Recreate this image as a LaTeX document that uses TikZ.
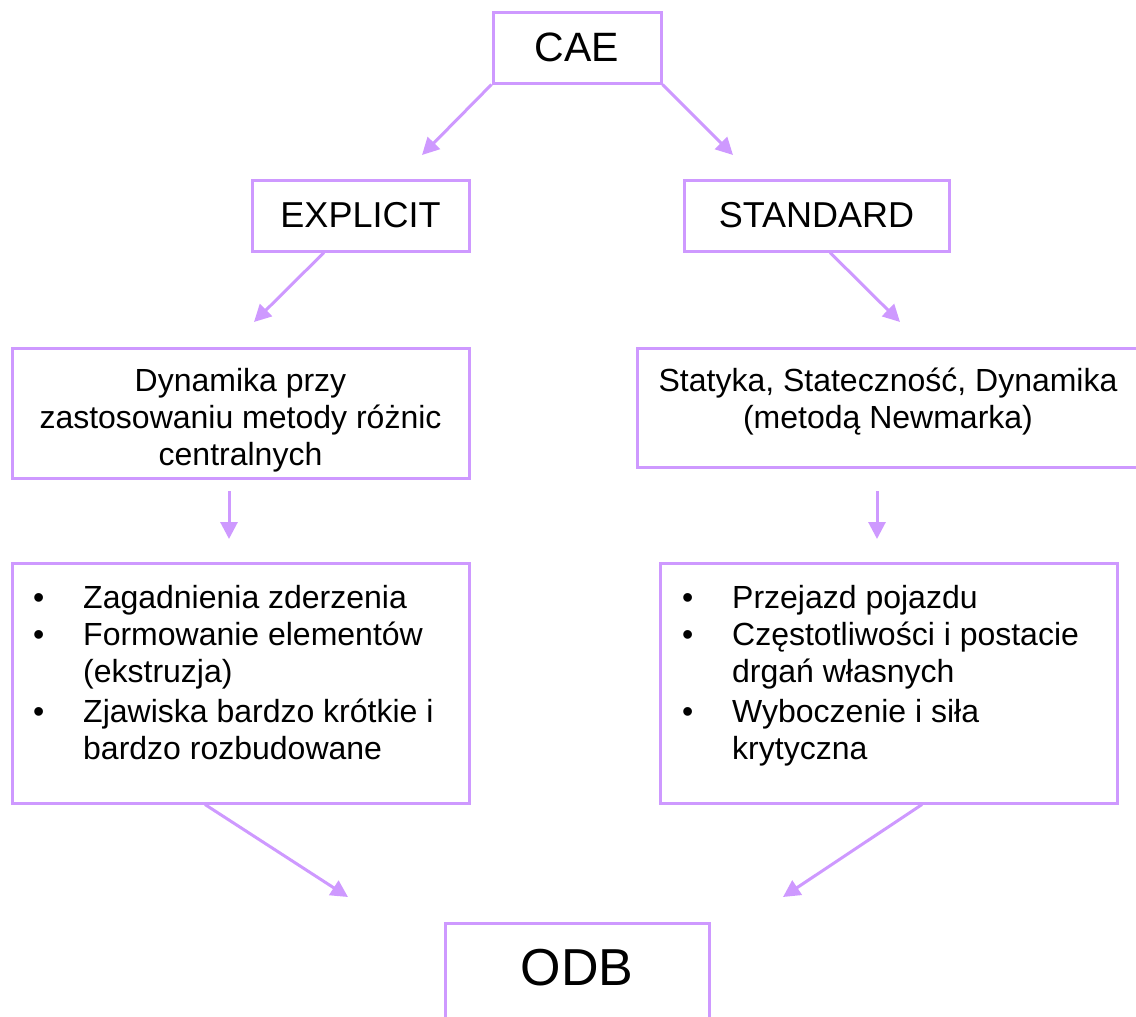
\documentclass[tikz,border=0pt]{standalone}
\usepackage{fontspec}
\setmainfont{Liberation Sans}
\usetikzlibrary{arrows.meta}
\definecolor{lav}{RGB}{206,153,255}
\begin{document}
\begin{tikzpicture}[x=1pt,y=-1pt,
  box/.style={draw=lav,line width=3pt,rectangle,inner sep=0pt},
  arr/.style={draw=lav,line width=3pt,-{Triangle[length=17pt,width=17pt]}},
  body/.style={font=\fontsize{32}{37}\selectfont,inner sep=0pt},
  item/.style={font=\fontsize{32}{37}\selectfont,inner sep=0pt,anchor=base west,align=left}]
\useasboundingbox (0,0) rectangle (1136,1017);
\clip (0,0) rectangle (1136,1017);
% boxes
\node[box,minimum width=168pt,minimum height=71pt,font=\fontsize{41}{48}\selectfont] (cae) at (577,47.5) {CAE};
\node[box,minimum width=217pt,minimum height=71pt,font=\fontsize{36}{42}\selectfont] (expl) at (360.5,215.5) {EXPLICIT};
\node[box,minimum width=265pt,minimum height=71pt,font=\fontsize{36}{42}\selectfont] (std) at (816.5,215.5) {STANDARD};
\node[box,minimum width=457pt,minimum height=130pt] (dyn) at (240.5,413) {};
\node[body,align=center] (dynt) at (240.5,420) {Dynamika przy\\zastosowaniu metody różnic\\centralnych};
\node[box,minimum width=513pt,minimum height=119pt] (stat) at (893.5,407.5) {};
\node[body,align=center] (statt) at (888,402) {Statyka, Stateczność, Dynamika\\(metodą Newmarka)};
\node[box,minimum width=457pt,minimum height=240pt] (ll) at (240.5,683) {};
\node[box,minimum width=457pt,minimum height=240pt] (rl) at (888.5,683) {};
\node[box,minimum width=264pt,minimum height=117pt] (odb) at (577,981.5) {};
\node[inner sep=0pt,font=\fontsize{52}{60}\selectfont] (odbt) at (577,968) {ODB};
% left list (multi-line items anchored at their last baseline)
\node[item] (l1b) at (33,608) {•};
\node[item] (l1) at (83,608) {Zagadnienia zderzenia};
\node[item] (l2b) at (33,645) {•};
\node[item] (l2) at (83,682) {Formowanie elementów\\(ekstruzja)};
\node[item] (l3b) at (33,722) {•};
\node[item] (l3) at (83,759) {Zjawiska bardzo krótkie i\\bardzo rozbudowane};
% right list
\node[item] (r1b) at (682,608) {•};
\node[item] (r1) at (732,608) {Przejazd pojazdu};
\node[item] (r2b) at (682,645) {•};
\node[item] (r2) at (732,682) {Częstotliwości i postacie\\drgań własnych};
\node[item] (r3b) at (682,722) {•};
\node[item] (r3) at (732,759) {Wyboczenie i siła\\krytyczna};
% arrow tips
\coordinate (t1) at (422,155);
\coordinate (t2) at (733,155);
\coordinate (t3) at (254,322);
\coordinate (t4) at (900,322);
\coordinate (s5) at (229,491);
\coordinate (t5) at (229,539);
\coordinate (s6) at (877,491);
\coordinate (t6) at (877,539);
\coordinate (t7) at (348,897);
\coordinate (t8) at (783,897);
\draw[arr] (cae.south west) -- (t1);
\draw[arr] (cae.south east) -- (t2);
\draw[arr] ([xshift=-36.5pt]expl.south) -- (t3);
\draw[arr] ([xshift=13.5pt]std.south) -- (t4);
\draw[arr] (s5) -- (t5);
\draw[arr] (s6) -- (t6);
\draw[arr] ([xshift=-35.5pt]ll.south) -- (t7);
\draw[arr] ([xshift=33.5pt]rl.south) -- (t8);
\end{tikzpicture}
\end{document}
